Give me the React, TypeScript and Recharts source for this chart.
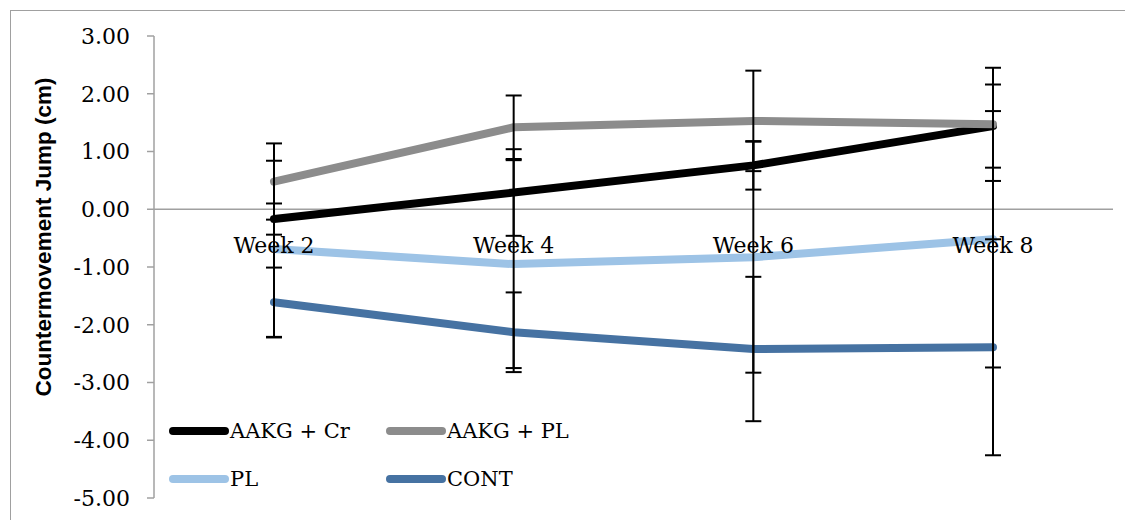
import { LineChart, Line, XAxis, YAxis, ErrorBar, ReferenceLine, Legend } from 'recharts';

const weeks = ['Week 2', 'Week 4', 'Week 6', 'Week 8'];

const aakgCr = [-0.17, 0.29, 0.76, 1.44];
const aakgPl = [0.48, 1.42, 1.53, 1.47];
const pl = [-0.69, -0.95, -0.83, -0.52];
const cont = [-1.61, -2.13, -2.42, -2.39];

const aakgCrErr = [0.27, 0.75, 0.42, 0.72];
const aakgPlErr = [0.66, 0.55, 0.87, 0.98];
const plErr = [1.53, 1.8, 2.0, 2.22];
const contErr = [0.6, 0.69, 1.25, 1.87];

const yTicks = [3, 2, 1, 0, -1, -2, -3, -4, -5];

const series = [
  { key: 'cr', name: 'AAKG + Cr', color: '#000000' },
  { key: 'pl2', name: 'AAKG + PL', color: '#8c8c8c' },
  { key: 'pl', name: 'PL', color: '#9dc3e6' },
  { key: 'cont', name: 'CONT', color: '#4672a2' },
];

const data = weeks.map((week, i) => ({
  week,
  cr: aakgCr[i],
  crErr: aakgCrErr[i],
  pl2: aakgPl[i],
  pl2Err: aakgPlErr[i],
  pl: pl[i],
  plErr: plErr[i],
  cont: cont[i],
  contErr: contErr[i],
}));

const SERIF = '"DejaVu Serif", serif';
const AXIS_GRAY = '#a0a0a0';

const WeekTick = (props: any) => (
  <text x={props.x} y={242} textAnchor="middle" fontFamily={SERIF} fontSize={22} fill="#000">
    {props.payload.value}
  </text>
);

const YTitle = () => (
  <text
    transform="translate(32,226) rotate(-90)"
    textAnchor="middle"
    dominantBaseline="central"
    fontFamily='"Liberation Sans", Arial, sans-serif'
    fontWeight="bold"
    fontSize={22.5}
    fill="#000"
  >
    Countermovement Jump (cm)
  </text>
);

const LegendBox = () => (
  <div style={{ display: 'grid', gridTemplateColumns: '217px 217px', fontFamily: SERIF, fontSize: 21 }}>
    {series.map((s) => (
      <div key={s.key} style={{ display: 'flex', alignItems: 'center', height: 48 }}>
        <svg width={62} height={10} style={{ display: 'block' }}>
          <line x1={5} y1={5} x2={57} y2={5} stroke={s.color} strokeWidth={8} strokeLinecap="round" />
        </svg>
        <span style={{ color: '#000' }}>{s.name}</span>
      </div>
    ))}
  </div>
);

export default function App() {
  return (
    <div style={{ paddingLeft: 2, paddingTop: 2 }}>
      <style>{'body{overflow:hidden}'}</style>
      <div
        style={{
          width: 1125,
          height: 520,
          borderTop: `1.5px solid ${AXIS_GRAY}`,
          borderLeft: `1.5px solid ${AXIS_GRAY}`,
          overflow: 'hidden',
          background: '#fff',
        }}
      >
        <LineChart width={1122} height={520} data={data} margin={{ top: 25, right: 20, bottom: 0, left: 0 }}>
          <YAxis
            domain={[-5, 3]}
            ticks={yTicks}
            interval={0}
            width={143}
            tickSize={7}
            tickMargin={17}
            tickFormatter={(v: number) => v.toFixed(2)}
            tick={{ fontFamily: SERIF, fontSize: 22, fill: '#000' }}
            axisLine={{ stroke: AXIS_GRAY, strokeWidth: 1.5 }}
            tickLine={{ stroke: AXIS_GRAY, strokeWidth: 1.5 }}
            label={{ content: () => <YTitle /> }}
          />
          <ReferenceLine y={0} stroke={AXIS_GRAY} strokeWidth={1.5} />
          {series.map((s) => (
            <Line
              key={s.key}
              type="linear"
              dataKey={s.key}
              name={s.name}
              stroke={s.color}
              strokeWidth={8}
              strokeLinecap="round"
              strokeLinejoin="round"
              dot={false}
              activeDot={false}
              isAnimationActive={false}
            />
          ))}
          {series.map((s) => (
            <Line
              key={s.key + '-err'}
              type="linear"
              dataKey={s.key}
              stroke="none"
              dot={false}
              activeDot={false}
              legendType="none"
              isAnimationActive={false}
            >
              <ErrorBar
                dataKey={s.key + 'Err'}
                direction="y"
                width={8}
                stroke="#000"
                strokeWidth={2}
                isAnimationActive={false}
              />
            </Line>
          ))}
          <XAxis
            dataKey="week"
            height={33}
            padding={{ left: 120, right: 120 }}
            axisLine={false}
            tickLine={false}
            tick={<WeekTick />}
            interval={0}
          />
          <Legend
            layout="horizontal"
            verticalAlign="middle"
            align="center"
            content={() => <LegendBox />}
            wrapperStyle={{ left: 157, top: 396, width: 440 }}
          />
        </LineChart>
      </div>
    </div>
  );
}
